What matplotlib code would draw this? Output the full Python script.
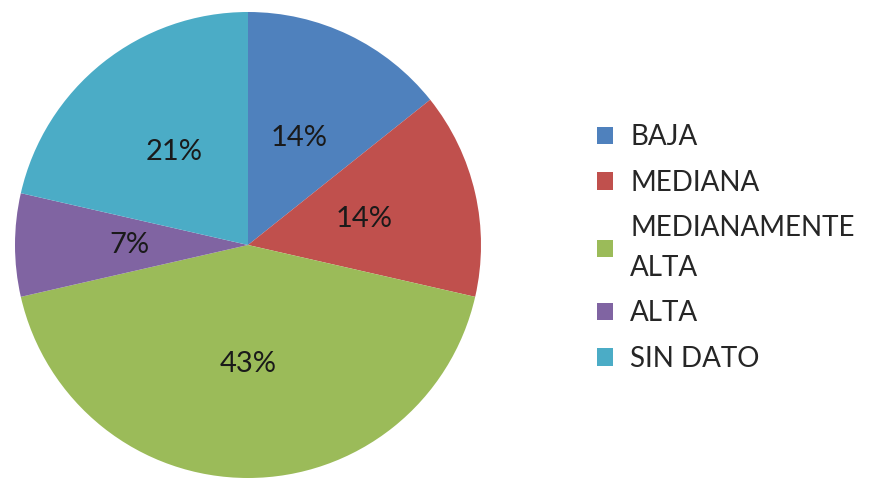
import matplotlib
matplotlib.use("Agg")
import matplotlib.pyplot as plt

plt.rcParams['font.family'] = ['Lato', 'DejaVu Sans']

categorias = ['BAJA', 'MEDIANA', 'MEDIANAMENTE\nALTA', 'ALTA', 'SIN DATO']
cantidades = [2, 2, 6, 1, 3]
colores = ['#4F81BD', '#C0504D', '#9BBB59', '#8064A2', '#4BACC6']

fig = plt.figure(figsize=(8.81, 4.79), dpi=100)
# pie center ~ (248, 245) px, radius ~ 233 px
cx, cy, r = 248, 245, 233
ax = fig.add_axes([(cx - r) / 881, (479 - cy - r) / 479, 2 * r / 881, 2 * r / 479])

wedges, textos, pcts = ax.pie(cantidades, colors=colores, startangle=90,
                              counterclock=False, autopct='%1.0f%%',
                              pctdistance=0.51,
                              textprops={'fontsize': 21, 'color': '#1a1a1a'})
ax.set_xlim(-1, 1)
ax.set_ylim(-1, 1)
ax.set_aspect('equal')

leg = fig.legend(wedges, categorias, loc='center left',
                 bbox_to_anchor=(583 / 881, 1 - 248 / 479),
                 frameon=False, fontsize=20, handlelength=0.58, handleheight=0.58,
                 handletextpad=0.62, labelspacing=0.7, borderpad=0,
                 labelcolor='#262626')
for t in leg.get_texts():
    t.set_linespacing(1.65)

fig.savefig('out.png', dpi=100)
